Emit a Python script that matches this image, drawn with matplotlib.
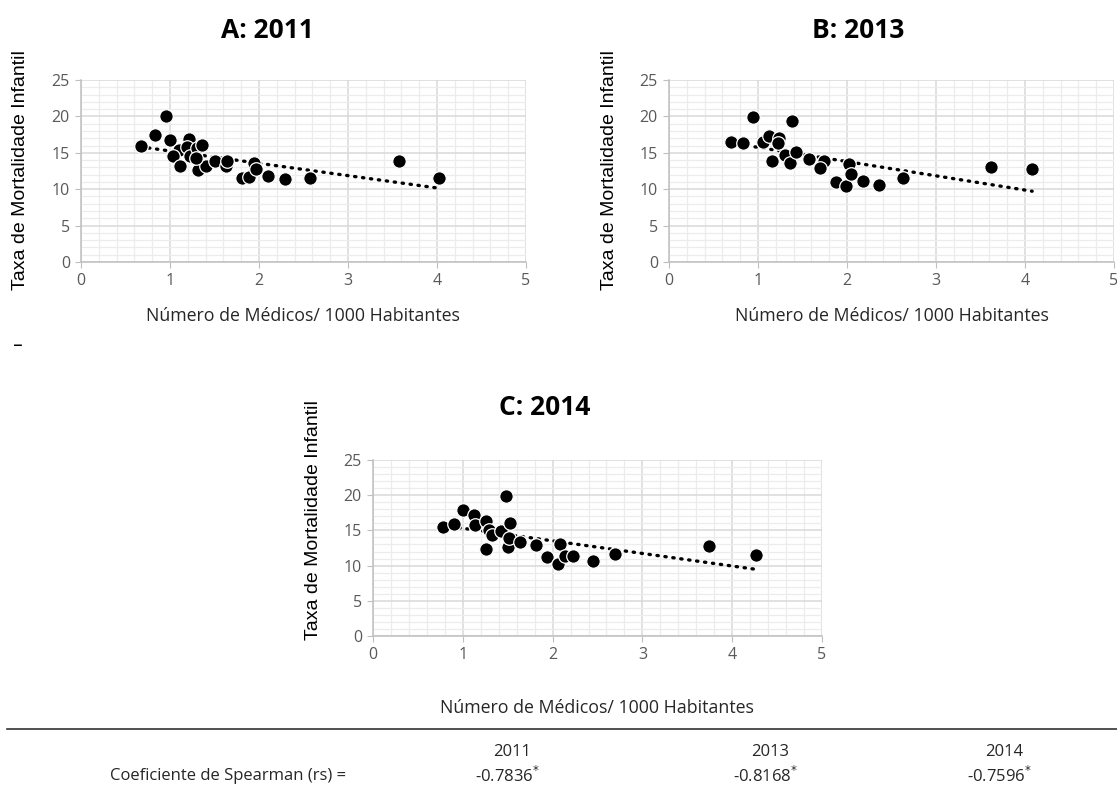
import numpy as np
import matplotlib
matplotlib.use("Agg")
import matplotlib.pyplot as plt
from matplotlib.lines import Line2D
from matplotlib.ticker import MultipleLocator

# medicos por 1000 hab (x) e taxa de mortalidade infantil (y)
x_2011 = [0.67, 0.83, 0.96, 1.00, 1.10, 1.03, 1.11, 1.21, 1.19, 1.23, 1.30, 1.36, 1.31,
          1.40, 1.29, 1.51, 1.63, 1.64, 1.81, 1.89, 1.94, 1.97, 2.10, 2.29, 2.57, 3.57, 4.02]
y_2011 = [15.9, 17.4, 20.1, 16.8, 15.4, 14.5, 13.2, 16.9, 15.8, 14.5, 15.6, 16.1, 12.6,
          13.2, 14.3, 13.9, 13.2, 13.9, 11.6, 11.7, 13.6, 12.8, 11.8, 11.4, 11.6, 13.9, 11.5]

x_2013 = [0.70, 0.83, 0.94, 1.06, 1.12, 1.16, 1.24, 1.23, 1.38, 1.30, 1.36, 1.43, 1.57,
          1.74, 1.70, 1.88, 1.99, 2.02, 2.05, 2.18, 2.36, 2.63, 3.62, 4.08]
y_2013 = [16.5, 16.4, 19.9, 16.5, 17.3, 13.9, 17.0, 16.3, 19.3, 14.7, 13.6, 15.1, 14.1,
          13.9, 12.9, 11.0, 10.5, 13.4, 12.1, 11.1, 10.6, 11.6, 13.1, 12.8]

x_2014 = [0.78, 0.90, 1.00, 1.13, 1.14, 1.26, 1.26, 1.29, 1.32, 1.42, 1.48, 1.53, 1.50,
          1.51, 1.64, 1.81, 1.94, 2.06, 2.08, 2.14, 2.23, 2.45, 2.69, 3.74, 4.27]
y_2014 = [15.5, 15.9, 17.9, 17.2, 15.7, 16.4, 12.4, 15.0, 14.4, 14.9, 19.9, 16.0, 12.6,
          13.9, 13.3, 12.9, 11.2, 10.2, 13.0, 11.4, 11.3, 10.7, 11.6, 12.8, 11.5]

anos = ["2011", "2013", "2014"]
spearman = ["-0.7836", "-0.8168", "-0.7596"]

W, H = 1117, 789
fig = plt.figure(figsize=(W / 100, H / 100), dpi=100)


def px(x, y):
    return x / W, 1 - y / H


def painel(box, x, y):
    x0, y0, x1, y1 = box
    ax = fig.add_axes([x0 / W, 1 - y1 / H, (x1 - x0) / W, (y1 - y0) / H])
    ax.set_xlim(0, 5)
    ax.set_ylim(0, 25)
    ax.xaxis.set_major_locator(MultipleLocator(1))
    ax.xaxis.set_minor_locator(MultipleLocator(0.2))
    ax.yaxis.set_major_locator(MultipleLocator(5))
    ax.yaxis.set_minor_locator(MultipleLocator(1))
    ax.grid(which="minor", color="#ececec", lw=0.9)
    ax.grid(which="major", color="#d9d9d9", lw=1.1)
    ax.set_axisbelow(True)
    for s in ["top", "right"]:
        ax.spines[s].set_visible(False)
    for s in ["left", "bottom"]:
        ax.spines[s].set_color("#bfbfbf")
        ax.spines[s].set_linewidth(1.1)
    ax.tick_params(which="major", length=4, color="#bfbfbf", labelsize=11.5,
                   labelcolor="#595959", pad=4)
    ax.tick_params(which="minor", length=0)
    for lab in ax.get_xticklabels() + ax.get_yticklabels():
        lab.set_fontfamily("Open Sans")

    xa = np.array(x)
    ya = np.array(y)
    a, b = np.polyfit(xa, ya, 1)
    xs = np.array([xa.min(), xa.max()])
    ax.plot(xs, a * xs + b, color="black", lw=2.4, ls=(0, (0.4, 2.0)),
            dash_capstyle="round", zorder=2)
    ax.scatter(xa, ya, s=95, color="black", edgecolor="white", lw=0.9, zorder=3)
    return ax


painel((81, 80, 526, 262), x_2011, y_2011)
painel((669, 80, 1114, 262), x_2013, y_2013)
painel((373, 460, 822, 636), x_2014, y_2014)

titulos = [("A: 2011", 267, 31), ("B: 2013", 858, 31), ("C: 2014", 545, 407)]
for t, tx, ty in titulos:
    fig.text(*px(tx, ty), t, ha="center", va="center", fontsize=19,
             fontweight="bold", family="Open Sans")

ylab = "Taxa de Mortalidade Infantil"
for tx, ty in [(21, 170), (609, 170), (313, 520)]:
    fig.text(*px(tx, ty), ylab, rotation=90, ha="center", va="center",
             fontsize=14, family="Liberation Sans")

xlab = "Número de Médicos/ 1000 Habitantes"
for tx, ty in [(303, 316), (892, 316), (597, 708)]:
    fig.text(*px(tx, ty), xlab, ha="center", va="center", fontsize=12.8,
             family="Open Sans", color="#262626")

fig.text(*px(18, 346), "–", ha="center", va="center", fontsize=14)

# tabela com o coeficiente de Spearman
fig.add_artist(Line2D([7 / W, 1], [1 - 729 / H] * 2, color="#333333", lw=1.2))
col_x = [512, 770, 1004]
for cx, ano, r in zip(col_x, anos, spearman):
    fig.text(*px(cx, 752), ano, ha="center", va="center", fontsize=12,
             family="Open Sans", color="#262626")
    fig.text(*px(cx - 5, 776), r + r"$^{*}$", ha="center", va="center",
             fontsize=12, family="Open Sans", color="#262626")
fig.text(*px(228, 776), "Coeficiente de Spearman (rs) =", ha="center",
         va="center", fontsize=12, family="Open Sans", color="#262626")

fig.savefig("out.png", dpi=100)
